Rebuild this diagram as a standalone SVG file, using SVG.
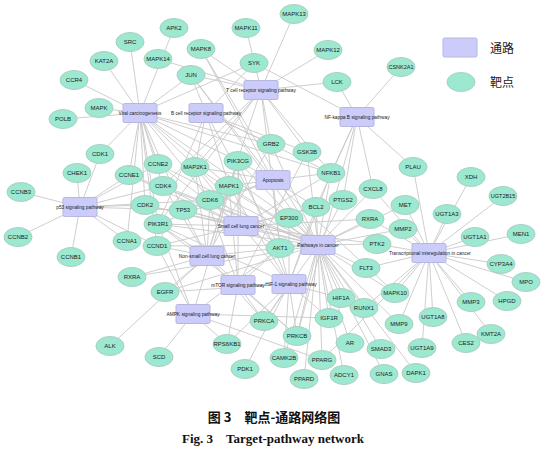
<svg xmlns="http://www.w3.org/2000/svg" width="546" height="466" viewBox="0 0 546 466">
<style>
.e{fill:#9de8d0;stroke:#a8cfc1;stroke-width:1}
.r{fill:#ccccfb;stroke:#b6b6df;stroke-width:1}
.t{font-family:"Liberation Sans",Arial,sans-serif;font-size:6px;fill:#1a1a1a;text-anchor:middle;dominant-baseline:central}
.p{font-size:4.8px}
#connectors path{stroke:#c8c8c8;stroke-width:0.9;fill:none}
.lg{font-family:"Noto Sans CJK SC",sans-serif;font-size:12px;fill:#222}
</style>
<rect width="546" height="466" fill="#fff"/>
<g id="connectors">
<path id="e-vc" d="M140 113L130 42M140 113L104 61M140 113L74 80M140 113L99 108M140 113L63 119M140 113L174 28M140 113L191 75M140 113L254 63M140 113L100 154M140 113L129 175M140 113L158 164M140 113L163 186M140 113L145 205M140 113L210 200M140 113L157 246M140 113L127 241M140 113L158 224M140 113L183 210M140 113L289 218M140 113L331 173M140 113L271 144M140 113L229 186M140 113L280 248M140 113L238 161"/>
<path id="e-bcr" d="M206 113L254 63M206 113L191 75M206 113L307 152M206 113L195 167M206 113L229 186M206 113L331 173M206 113L158 224M206 113L280 248M206 113L271 144"/>
<path id="e-tcr" d="M261 90L246 28M261 90L294 14M261 90L328 50M261 90L158 59M261 90L337 82M261 90L191 75M261 90L201 49M261 90L307 152M261 90L271 144M261 90L195 167M261 90L229 186M261 90L331 173M261 90L158 224M261 90L280 248M261 90L163 186"/>
<path id="e-nfkb" d="M357 117L401 67M357 117L337 82M357 117L254 63M357 117L331 173M357 117L316 207M357 117L343 200M357 117L373 189M357 117L413 167M357 117L297 336"/>
<path id="e-p53" d="M80 207L100 154M80 207L77 173M80 207L21 192M80 207L18 237M80 207L71 257M80 207L129 175M80 207L158 164M80 207L145 205M80 207L163 186M80 207L210 200M80 207L157 246M80 207L183 210M80 207L127 241"/>
<path id="e-apop" d="M273 180L191 75M273 180L201 49M273 180L395 293M273 180L183 210M273 180L316 207M273 180L331 173M273 180L158 224M273 180L280 248M273 180L195 167M273 180L229 186M273 180L238 161"/>
<path id="e-sclc" d="M241 226L145 205M241 226L163 186M241 226L210 200M241 226L129 175M241 226L158 164M241 226L157 246M241 226L183 210M241 226L158 224M241 226L280 248M241 226L316 207M241 226L331 173M241 226L377 244M241 226L370 219M241 226L343 200M241 226L238 161"/>
<path id="e-pic" d="M318 245L191 75M318 245L201 49M318 245L395 293M318 245L271 144M318 245L307 152M318 245L195 167M318 245L229 186M318 245L331 173M318 245L343 200M318 245L316 207M318 245L289 218M318 245L280 248M318 245L158 224M318 245L183 210M318 245L145 205M318 245L163 186M318 245L210 200M318 245L129 175M318 245L158 164M318 245L157 246M318 245L373 189M318 245L370 219M318 245L132 277M318 245L377 244M318 245L403 229M318 245L399 324M318 245L405 205M318 245L366 268M318 245L165 292M318 245L329 318M318 245L341 298M318 245L364 308M318 245L350 343M318 245L322 360M318 245L304 379M318 245L344 375M318 245L384 374M318 245L381 349M318 245L416 373M318 245L264 321M318 245L297 336M318 245L284 358M318 245L238 161"/>
<path id="e-tmc" d="M429 253L413 167M429 253L405 205M429 253L471 302M429 253L399 324M429 253L364 308M429 253L366 268M429 253L526 282M429 253L501 264M429 253L447 214M429 253L475 237M429 253L433 317M429 253L422 348M429 253L471 177M429 253L503 196M429 253L521 234M429 253L507 301M429 253L491 334M429 253L466 343M429 253L403 229M429 253L377 244M429 253L373 189M429 253L322 360M429 253L395 293M429 253L370 219"/>
<path id="e-mtor" d="M238 285L158 224M238 285L280 248M238 285L195 167M238 285L229 186M238 285L227 344M238 285L264 321M238 285L297 336M238 285L307 152M238 285L238 161"/>
<path id="e-hif" d="M289 284L341 298M289 284L329 318M289 284L165 292M289 284L158 224M289 284L280 248M289 284L195 167M289 284L229 186M289 284L264 321M289 284L297 336M289 284L284 358M289 284L245 369M289 284L227 344M289 284L316 207M289 284L331 173M289 284L289 218M289 284L238 161"/>
<path id="e-ampk" d="M193 314L158 224M193 314L280 248M193 314L227 344M193 314L159 357M193 314L157 246M193 314L329 318M193 314L322 360M193 314L238 161"/>
<path id="e-nsclc" d="M207 256L165 292M207 256L110 346M207 256L163 186M207 256L210 200M207 256L157 246M207 256L183 210M207 256L158 224M207 256L280 248M207 256L195 167M207 256L229 186M207 256L264 321M207 256L297 336M207 256L132 277M207 256L271 144M207 256L238 161"/>
</g>
<g id="targets">
<g id="n-APK2"><ellipse class="e" cx="174" cy="28" rx="14" ry="9.5"/><text class="t" x="174" y="28">APK2</text></g>
<g id="n-SRC"><ellipse class="e" cx="130" cy="42" rx="14" ry="9.5"/><text class="t" x="130" y="42">SRC</text></g>
<g id="n-KAT2A"><ellipse class="e" cx="104" cy="61" rx="14" ry="9.5"/><text class="t" x="104" y="61">KAT2A</text></g>
<g id="n-MAPK14"><ellipse class="e" cx="158" cy="59" rx="14" ry="9.5"/><text class="t" x="158" y="59">MAPK14</text></g>
<g id="n-CCR4"><ellipse class="e" cx="74" cy="80" rx="14" ry="9.5"/><text class="t" x="74" y="80">CCR4</text></g>
<g id="n-MAPK"><ellipse class="e" cx="99" cy="108" rx="14" ry="9.5"/><text class="t" x="99" y="108">MAPK</text></g>
<g id="n-POLB"><ellipse class="e" cx="63" cy="119" rx="14" ry="9.5"/><text class="t" x="63" y="119">POLB</text></g>
<g id="n-MAPK13"><ellipse class="e" cx="294" cy="14" rx="14" ry="9.5"/><text class="t" x="294" y="14">MAPK13</text></g>
<g id="n-MAPK11"><ellipse class="e" cx="246" cy="28" rx="14" ry="9.5"/><text class="t" x="246" y="28">MAPK11</text></g>
<g id="n-MAPK8"><ellipse class="e" cx="201" cy="49" rx="14" ry="9.5"/><text class="t" x="201" y="49">MAPK8</text></g>
<g id="n-MAPK12"><ellipse class="e" cx="328" cy="50" rx="14" ry="9.5"/><text class="t" x="328" y="50">MAPK12</text></g>
<g id="n-SYK"><ellipse class="e" cx="254" cy="63" rx="14" ry="9.5"/><text class="t" x="254" y="63">SYK</text></g>
<g id="n-JUN"><ellipse class="e" cx="191" cy="75" rx="14" ry="9.5"/><text class="t" x="191" y="75">JUN</text></g>
<g id="n-LCK"><ellipse class="e" cx="337" cy="82" rx="14" ry="9.5"/><text class="t" x="337" y="82">LCK</text></g>
<g id="n-CSNK2A1"><ellipse class="e" cx="401" cy="67" rx="14" ry="9.5"/><text class="t" x="401" y="67" style="font-size:5.5px">CSNK2A1</text></g>
<g id="n-CDK1"><ellipse class="e" cx="100" cy="154" rx="14" ry="9.5"/><text class="t" x="100" y="154">CDK1</text></g>
<g id="n-CHEK1"><ellipse class="e" cx="77" cy="173" rx="14" ry="9.5"/><text class="t" x="77" y="173">CHEK1</text></g>
<g id="n-CCNB3"><ellipse class="e" cx="21" cy="192" rx="14" ry="9.5"/><text class="t" x="21" y="192">CCNB3</text></g>
<g id="n-CCNE2"><ellipse class="e" cx="158" cy="164" rx="14" ry="9.5"/><text class="t" x="158" y="164">CCNE2</text></g>
<g id="n-CCNE1"><ellipse class="e" cx="129" cy="175" rx="14" ry="9.5"/><text class="t" x="129" y="175">CCNE1</text></g>
<g id="n-CDK4"><ellipse class="e" cx="163" cy="186" rx="14" ry="9.5"/><text class="t" x="163" y="186">CDK4</text></g>
<g id="n-CDK2"><ellipse class="e" cx="145" cy="205" rx="14" ry="9.5"/><text class="t" x="145" y="205">CDK2</text></g>
<g id="n-PIK3R1"><ellipse class="e" cx="158" cy="224" rx="14" ry="9.5"/><text class="t" x="158" y="224">PIK3R1</text></g>
<g id="n-CCNB2"><ellipse class="e" cx="18" cy="237" rx="14" ry="9.5"/><text class="t" x="18" y="237">CCNB2</text></g>
<g id="n-CCNA1"><ellipse class="e" cx="127" cy="241" rx="14" ry="9.5"/><text class="t" x="127" y="241">CCNA1</text></g>
<g id="n-CCND1"><ellipse class="e" cx="157" cy="246" rx="14" ry="9.5"/><text class="t" x="157" y="246">CCND1</text></g>
<g id="n-CCNB1"><ellipse class="e" cx="71" cy="257" rx="14" ry="9.5"/><text class="t" x="71" y="257">CCNB1</text></g>
<g id="n-GRB2"><ellipse class="e" cx="271" cy="144" rx="14" ry="9.5"/><text class="t" x="271" y="144">GRB2</text></g>
<g id="n-GSK3B"><ellipse class="e" cx="307" cy="152" rx="14" ry="9.5"/><text class="t" x="307" y="152">GSK3B</text></g>
<g id="n-PIK3CG"><ellipse class="e" cx="238" cy="161" rx="14" ry="9.5"/><text class="t" x="238" y="161">PIK3CG</text></g>
<g id="n-MAP2K1"><ellipse class="e" cx="195" cy="167" rx="14" ry="9.5"/><text class="t" x="195" y="167">MAP2K1</text></g>
<g id="n-NFKB1"><ellipse class="e" cx="331" cy="173" rx="14" ry="9.5"/><text class="t" x="331" y="173">NFKB1</text></g>
<g id="n-MAPK1"><ellipse class="e" cx="229" cy="186" rx="14" ry="9.5"/><text class="t" x="229" y="186">MAPK1</text></g>
<g id="n-CDK6"><ellipse class="e" cx="210" cy="200" rx="14" ry="9.5"/><text class="t" x="210" y="200">CDK6</text></g>
<g id="n-TP53"><ellipse class="e" cx="183" cy="210" rx="14" ry="9.5"/><text class="t" x="183" y="210">TP53</text></g>
<g id="n-BCL2"><ellipse class="e" cx="316" cy="207" rx="14" ry="9.5"/><text class="t" x="316" y="207">BCL2</text></g>
<g id="n-PTGS2"><ellipse class="e" cx="343" cy="200" rx="14" ry="9.5"/><text class="t" x="343" y="200">PTGS2</text></g>
<g id="n-EP300"><ellipse class="e" cx="289" cy="218" rx="14" ry="9.5"/><text class="t" x="289" y="218">EP300</text></g>
<g id="n-AKT1"><ellipse class="e" cx="280" cy="248" rx="14" ry="9.5"/><text class="t" x="280" y="248">AKT1</text></g>
<g id="n-CXCL8"><ellipse class="e" cx="373" cy="189" rx="14" ry="9.5"/><text class="t" x="373" y="189">CXCL8</text></g>
<g id="n-RXRA-r"><ellipse class="e" cx="370" cy="219" rx="14" ry="9.5"/><text class="t" x="370" y="219">RXRA</text></g>
<g id="n-PLAU"><ellipse class="e" cx="413" cy="167" rx="14" ry="9.5"/><text class="t" x="413" y="167">PLAU</text></g>
<g id="n-XDH"><ellipse class="e" cx="471" cy="177" rx="14" ry="9.5"/><text class="t" x="471" y="177">XDH</text></g>
<g id="n-UGT2B15"><ellipse class="e" cx="503" cy="196" rx="14" ry="9.5"/><text class="t" x="503" y="196" style="font-size:5.5px">UGT2B15</text></g>
<g id="n-MET"><ellipse class="e" cx="405" cy="205" rx="14" ry="9.5"/><text class="t" x="405" y="205">MET</text></g>
<g id="n-UGT1A3"><ellipse class="e" cx="447" cy="214" rx="14" ry="9.5"/><text class="t" x="447" y="214">UGT1A3</text></g>
<g id="n-MMP2"><ellipse class="e" cx="403" cy="229" rx="14" ry="9.5"/><text class="t" x="403" y="229">MMP2</text></g>
<g id="n-PTK2"><ellipse class="e" cx="377" cy="244" rx="14" ry="9.5"/><text class="t" x="377" y="244">PTK2</text></g>
<g id="n-UGT1A1"><ellipse class="e" cx="475" cy="237" rx="14" ry="9.5"/><text class="t" x="475" y="237">UGT1A1</text></g>
<g id="n-MEN1"><ellipse class="e" cx="521" cy="234" rx="14" ry="9.5"/><text class="t" x="521" y="234">MEN1</text></g>
<g id="n-CYP3A4"><ellipse class="e" cx="501" cy="264" rx="14" ry="9.5"/><text class="t" x="501" y="264">CYP3A4</text></g>
<g id="n-FLT3"><ellipse class="e" cx="366" cy="268" rx="14" ry="9.5"/><text class="t" x="366" y="268">FLT3</text></g>
<g id="n-MPO"><ellipse class="e" cx="526" cy="282" rx="14" ry="9.5"/><text class="t" x="526" y="282">MPO</text></g>
<g id="n-MAPK10"><ellipse class="e" cx="395" cy="293" rx="14" ry="9.5"/><text class="t" x="395" y="293">MAPK10</text></g>
<g id="n-MMP3"><ellipse class="e" cx="471" cy="302" rx="14" ry="9.5"/><text class="t" x="471" y="302">MMP3</text></g>
<g id="n-HPGD"><ellipse class="e" cx="507" cy="301" rx="14" ry="9.5"/><text class="t" x="507" y="301">HPGD</text></g>
<g id="n-RUNX1"><ellipse class="e" cx="364" cy="308" rx="14" ry="9.5"/><text class="t" x="364" y="308">RUNX1</text></g>
<g id="n-MMP9"><ellipse class="e" cx="399" cy="324" rx="14" ry="9.5"/><text class="t" x="399" y="324">MMP9</text></g>
<g id="n-UGT1A8"><ellipse class="e" cx="433" cy="317" rx="14" ry="9.5"/><text class="t" x="433" y="317">UGT1A8</text></g>
<g id="n-KMT2A"><ellipse class="e" cx="491" cy="334" rx="14" ry="9.5"/><text class="t" x="491" y="334">KMT2A</text></g>
<g id="n-CES2"><ellipse class="e" cx="466" cy="343" rx="14" ry="9.5"/><text class="t" x="466" y="343">CES2</text></g>
<g id="n-UGT1A9"><ellipse class="e" cx="422" cy="348" rx="14" ry="9.5"/><text class="t" x="422" y="348">UGT1A9</text></g>
<g id="n-SMAD3"><ellipse class="e" cx="381" cy="349" rx="14" ry="9.5"/><text class="t" x="381" y="349">SMAD3</text></g>
<g id="n-GNAS"><ellipse class="e" cx="384" cy="374" rx="14" ry="9.5"/><text class="t" x="384" y="374">GNAS</text></g>
<g id="n-DAPK1"><ellipse class="e" cx="416" cy="373" rx="14" ry="9.5"/><text class="t" x="416" y="373">DAPK1</text></g>
<g id="n-PRKCA"><ellipse class="e" cx="264" cy="321" rx="14" ry="9.5"/><text class="t" x="264" y="321">PRKCA</text></g>
<g id="n-IGF1R"><ellipse class="e" cx="329" cy="318" rx="14" ry="9.5"/><text class="t" x="329" y="318">IGF1R</text></g>
<g id="n-HIF1A"><ellipse class="e" cx="341" cy="298" rx="14" ry="9.5"/><text class="t" x="341" y="298">HIF1A</text></g>
<g id="n-PRKCB"><ellipse class="e" cx="297" cy="336" rx="14" ry="9.5"/><text class="t" x="297" y="336">PRKCB</text></g>
<g id="n-AR"><ellipse class="e" cx="350" cy="343" rx="14" ry="9.5"/><text class="t" x="350" y="343">AR</text></g>
<g id="n-RPS6KB1"><ellipse class="e" cx="227" cy="344" rx="14" ry="9.5"/><text class="t" x="227" y="344">RPS6KB1</text></g>
<g id="n-CAMK2B"><ellipse class="e" cx="284" cy="358" rx="14" ry="9.5"/><text class="t" x="284" y="358">CAMK2B</text></g>
<g id="n-PPARG"><ellipse class="e" cx="322" cy="360" rx="14" ry="9.5"/><text class="t" x="322" y="360">PPARG</text></g>
<g id="n-PDK1"><ellipse class="e" cx="245" cy="369" rx="14" ry="9.5"/><text class="t" x="245" y="369">PDK1</text></g>
<g id="n-PPARD"><ellipse class="e" cx="304" cy="379" rx="14" ry="9.5"/><text class="t" x="304" y="379">PPARD</text></g>
<g id="n-ADCY1"><ellipse class="e" cx="344" cy="375" rx="14" ry="9.5"/><text class="t" x="344" y="375">ADCY1</text></g>
<g id="n-RXRA-l"><ellipse class="e" cx="132" cy="277" rx="14" ry="9.5"/><text class="t" x="132" y="277">RXRA</text></g>
<g id="n-EGFR"><ellipse class="e" cx="165" cy="292" rx="14" ry="9.5"/><text class="t" x="165" y="292">EGFR</text></g>
<g id="n-ALK"><ellipse class="e" cx="110" cy="346" rx="14" ry="9.5"/><text class="t" x="110" y="346">ALK</text></g>
<g id="n-SCD"><ellipse class="e" cx="159" cy="357" rx="14" ry="9.5"/><text class="t" x="159" y="357">SCD</text></g>
</g>
<g id="pathways">
<g id="p-vc"><rect class="r" x="123" y="103.5" width="34" height="19" rx="1.5"/><text class="t p" x="140" y="113">Viral carcinogenesis</text></g>
<g id="p-bcr"><rect class="r" x="189" y="103.5" width="34" height="19" rx="1.5"/><text class="t p" x="206" y="113">B cell receptor signaling pathway</text></g>
<g id="p-tcr"><rect class="r" x="244" y="80.5" width="34" height="19" rx="1.5"/><text class="t p" x="261" y="90.5">T cell receptor signaling pathway</text></g>
<g id="p-nfkb"><rect class="r" x="340" y="107.5" width="34" height="19" rx="1.5"/><text class="t p" x="357" y="117">NF-kappa B signaling pathway</text></g>
<g id="p-p53"><rect class="r" x="63" y="197.5" width="34" height="19" rx="1.5"/><text class="t p" x="80" y="207">p53 signaling pathway</text></g>
<g id="p-apop"><rect class="r" x="256" y="170.5" width="34" height="19" rx="1.5"/><text class="t p" x="273" y="180">Apoptosis</text></g>
<g id="p-sclc"><rect class="r" x="224" y="216.5" width="34" height="19" rx="1.5"/><text class="t p" x="241" y="226">Small cell lung cancer</text></g>
<g id="p-pic"><rect class="r" x="301" y="235.5" width="34" height="19" rx="1.5"/><text class="t p" x="318" y="245">Pathways in cancer</text></g>
<g id="p-nsclc"><rect class="r" x="190" y="246.5" width="34" height="19" rx="1.5"/><text class="t p" x="207" y="256.5">Non-small cell lung cancer</text></g>
<g id="p-tmc"><rect class="r" x="412" y="243.5" width="34" height="19" rx="1.5"/><text class="t p" x="430" y="253.5">Transcriptional misregulation in cancer</text></g>
<g id="p-mtor"><rect class="r" x="221" y="275.5" width="34" height="19" rx="1.5"/><text class="t p" x="238" y="285">mTOR signaling pathway</text></g>
<g id="p-hif"><rect class="r" x="272" y="274.5" width="34" height="19" rx="1.5"/><text class="t p" x="291" y="284">HIF-1 signaling pathway</text></g>
<g id="p-ampk"><rect class="r" x="176" y="304.5" width="34" height="19" rx="1.5"/><text class="t p" x="193" y="314">AMPK signaling pathway</text></g>
</g>
<g id="legend">
<rect class="r" x="443" y="38" width="34" height="19" rx="1.5"/>
<text class="lg" x="490" y="52.5">通路</text>
<ellipse class="e" cx="461" cy="82" rx="14" ry="9.5"/>
<text class="lg" x="490" y="86.5">靶点</text>
</g>
<g id="caption">
<text x="274" y="421.5" text-anchor="middle" style="font-family:'Noto Sans CJK SC',sans-serif;font-weight:bold;font-size:13px;fill:#111">图 3　靶点-通路网络图</text>
<text x="273" y="443" text-anchor="middle" style="font-family:'Liberation Serif','Times New Roman',serif;font-weight:bold;font-size:13px;fill:#111">Fig. 3　Target-pathway network</text>
</g>
</svg>
